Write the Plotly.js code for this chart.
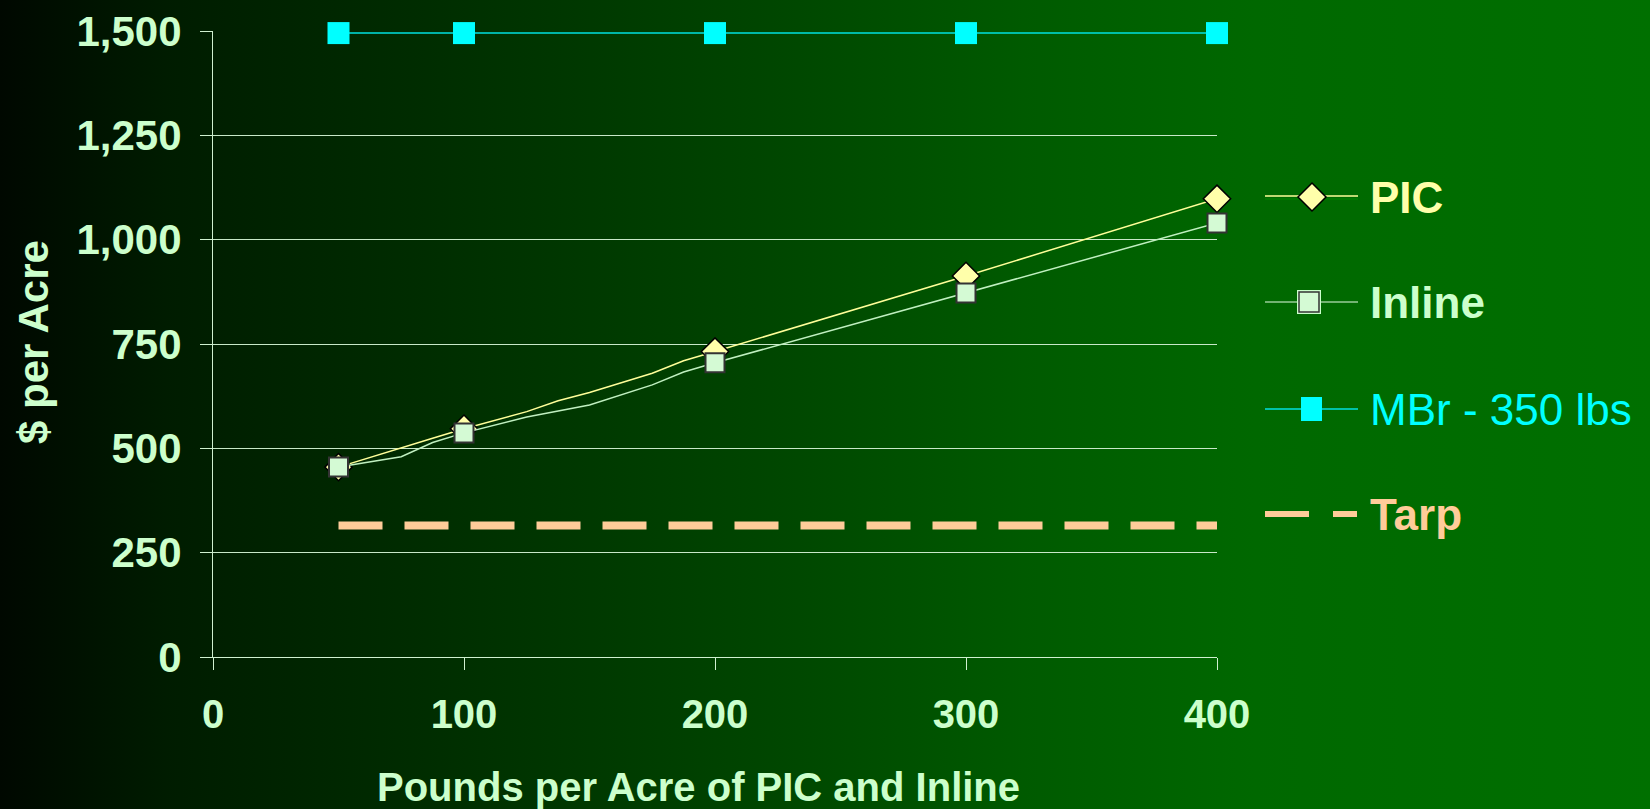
<!DOCTYPE html>
<html>
<head>
<meta charset="utf-8">
<script src="https://cdn.plot.ly/plotly-3.0.1.min.js"></script>
<style>
  html, body { margin: 0; padding: 0; }
  body {
    width: 1650px; height: 809px; overflow: hidden;
    background: linear-gradient(to right, #000800 0%, #001c00 10%, #002c00 25%, #004a00 50%, #005a00 62%, #006800 76%, #007000 100%);
  }
  #chart { width: 1650px; height: 809px; }
</style>
</head>
<body>
<div id="chart"></div>
<script>
// ---------------- data ----------------
const pounds = [50, 100, 200, 300, 400];           // marked application rates
const picX = [50, 75, 87.5, 100, 125, 137.5, 150, 175, 187.5, 200, 300, 400];
const picCost = [455, 500, 524, 547, 588, 614, 634, 680, 710, 732, 913, 1098];
const inlineX = [50, 75, 87.5, 100, 125, 150, 175, 187.5, 200, 300, 400];
const inlineCost = [455, 480, 514, 537, 575, 604, 652, 683, 705, 872, 1040];
const mbrCost = [1495, 1495, 1495, 1495, 1495];
const tarpCost = [315, 315, 315, 315, 315];
const xTickVals = [0, 100, 200, 300, 400];
const yTickVals = [0, 250, 500, 750, 1000, 1250, 1500];
const yTickText = ['0', '250', '500', '750', '1,000', '1,250', '1,500'];
const seriesNames = ['PIC', 'Inline', 'MBr - 350 lbs', 'Tarp'];

// ---------------- layout geometry ----------------
const W = 1650, H = 809;
const L = 213, R = 1217, T = 31, B = 657;
const xp = px => (px - L) / (R - L);
const yp = py => (B - py) / (B - T);
const FONT = 'Liberation Sans, Arial, Helvetica, sans-serif';
const MINT = '#ccffcc';

const showAt = (xs, on, off) => xs.map(x => pounds.includes(x) ? on : off);

const traces = [
  {
    name: seriesNames[3], x: pounds, y: tarpCost, mode: 'lines',
    line: { color: '#ffcc99', width: 8, dash: '44px,22px' },
    cliponaxis: false, showlegend: false
  },
  {
    name: seriesNames[0], x: picX, y: picCost, mode: 'lines+markers',
    line: { color: '#ffff99', width: 1.5 },
    marker: {
      symbol: 'diamond', size: showAt(picX, 21, 0), opacity: showAt(picX, 1, 0),
      color: '#ffffaa', line: { color: '#000000', width: showAt(picX, 1.5, 0) }
    },
    cliponaxis: false, showlegend: false
  },
  {
    name: seriesNames[1], x: inlineX, y: inlineCost, mode: 'lines+markers',
    line: { color: '#c0f0c0', width: 1.5 },
    marker: {
      symbol: 'square', size: showAt(inlineX, 19, 0), opacity: showAt(inlineX, 1, 0),
      color: '#d4fad4', line: { color: '#333333', width: showAt(inlineX, 2, 0) }
    },
    cliponaxis: false, showlegend: false
  },
  {
    name: seriesNames[2], x: pounds, y: mbrCost, mode: 'lines+markers',
    line: { color: '#00e0e0', width: 1.5 },
    marker: { symbol: 'square', size: 22, color: '#00ffff', line: { width: 0 } },
    cliponaxis: false, showlegend: false
  }
];

// ---------------- custom legend (decoration) ----------------
function pathFromPx(pts) {
  return 'M ' + pts.map(p => xp(p[0]) + ',' + yp(p[1])).join(' L ') + ' Z';
}
function rectPx(x0, y0, x1, y1, fill, lineColor, lw) {
  return {
    type: 'rect', xref: 'paper', yref: 'paper', layer: 'above',
    x0: xp(x0), x1: xp(x1), y0: yp(y1), y1: yp(y0),
    fillcolor: fill, line: { color: lineColor || fill, width: lw || 0 }
  };
}
function linePx(x0, x1, y, color, w) {
  return {
    type: 'line', xref: 'paper', yref: 'paper', layer: 'above',
    x0: xp(x0), x1: xp(x1), y0: yp(y), y1: yp(y),
    line: { color: color, width: w }
  };
}
const legY = [197, 302, 409, 514];
const shapes = [
  // PIC
  linePx(1265, 1358, legY[0] - 1, '#ffff99', 1.5),
  linePx(1265, 1358, legY[0] + 2, '#008800', 1),
  {
    type: 'path', xref: 'paper', yref: 'paper', layer: 'above',
    path: pathFromPx([[1312, legY[0] - 14], [1326, legY[0]], [1312, legY[0] + 14], [1298, legY[0]]]),
    fillcolor: '#ffffaa', line: { color: '#000000', width: 1.5 }
  },
  // Inline
  linePx(1265, 1358, legY[1], '#99cc99', 1.5),
  rectPx(1297, legY[1] - 12, 1321, legY[1] + 12, '#ccffcc'),
  rectPx(1299, legY[1] - 10, 1319, legY[1] + 10, '#d4fad4', '#333333', 1.5),
  // MBr
  linePx(1265, 1358, legY[2], '#00e0e0', 1.5),
  rectPx(1301, legY[2] - 12, 1322, legY[2] + 12, '#00ffff'),
  // Tarp
  linePx(1265, 1309, legY[3], '#ffcc99', 6),
  linePx(1333, 1357, legY[3], '#ffcc99', 6)
];
const legColors = ['#ffffaa', '#ccffcc', '#00ffff', '#ffcc99'];
const legBold = [true, true, false, true];
const annotations = seriesNames.map((n, i) => ({
  xref: 'paper', yref: 'paper', x: xp(1368), y: yp(legY[i]),
  xanchor: 'left', yanchor: 'middle', showarrow: false,
  text: legBold[i] ? '<b>' + n + '</b>' : n,
  font: { family: FONT, size: 44, color: legColors[i] }
}));
// axis titles
annotations.push({
  xref: 'paper', yref: 'paper', x: xp(698), y: yp(787),
  xanchor: 'center', yanchor: 'middle', showarrow: false,
  text: '<b>Pounds per Acre of PIC and Inline</b>',
  font: { family: FONT, size: 40, color: MINT }
});
annotations.push({
  xref: 'paper', yref: 'paper', x: xp(33), y: yp(342),
  xanchor: 'center', yanchor: 'middle', showarrow: false, textangle: -90,
  text: '<b>$ per Acre</b>',
  font: { family: FONT, size: 42, color: MINT }
});

const axisCommon = {
  showline: true, linecolor: '#d0f0d0', linewidth: 1,
  ticks: 'outside', ticklen: 12, tickcolor: '#d0f0d0', tickwidth: 1,
  zeroline: false
};

const layout = {
  width: W, height: H,
  margin: { l: L, r: W - R, t: T, b: H - B, pad: 0 },
  paper_bgcolor: 'rgba(0,0,0,0)', plot_bgcolor: 'rgba(0,0,0,0)',
  showlegend: false,
  xaxis: Object.assign({}, axisCommon, {
    range: [0, 400], tickmode: 'array', tickvals: xTickVals,
    showgrid: false, ticklabelstandoff: 10,
    tickfont: { family: FONT, size: 40, color: MINT, weight: 'bold' }
  }),
  yaxis: Object.assign({}, axisCommon, {
    range: [0, 1500], tickmode: 'array', tickvals: yTickVals, ticktext: yTickText,
    showgrid: true, gridcolor: '#c8e8c8', gridwidth: 1, ticklabelstandoff: 10,
    tickfont: { family: FONT, size: 42, color: MINT, weight: 'bold' }
  }),
  shapes: shapes,
  annotations: annotations
};

Plotly.newPlot('chart', traces, layout, { displayModeBar: false, staticPlot: true });
</script>
</body>
</html>
